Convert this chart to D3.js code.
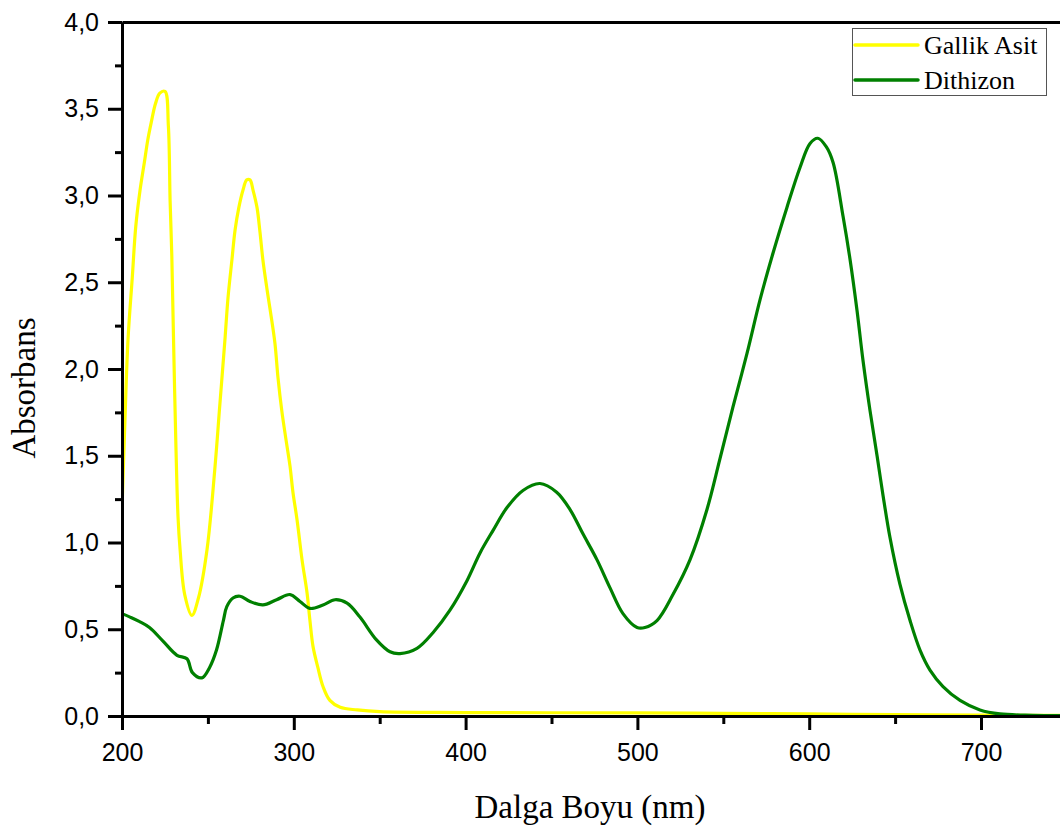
<!DOCTYPE html>
<html>
<head>
<meta charset="utf-8">
<script src="https://cdn.jsdelivr.net/npm/d3@7"></script>
<style>
  body { margin: 0; background: #fff; }
  svg { display: block; }
</style>
</head>
<body>
<svg id="chart"></svg>
<script>
// Gallik Asit spectrum (wavelength nm, absorbance)
var gallikX = [200, 201.7, 203.5, 206, 208, 210.5, 213, 215, 217, 219.5, 222, 225, 227, 228, 229, 230,
  231.4, 232.6, 233.8, 236.5, 240.7, 244.5, 249.5, 254, 257, 260, 261.7, 264, 265.8, 268, 270.4, 272.6,
  274.5, 276.3, 278.6, 280.3, 282, 284.4, 286.1, 289, 290.8, 293, 295.5, 297.8, 299.5, 301.9, 304.8,
  307.7, 309.4, 311.2, 314, 317, 321, 327, 337, 350, 400, 500, 550, 600, 650, 700, 750];
var gallikY = [1.19, 1.70, 2.17, 2.53, 2.82, 3.03, 3.19, 3.32, 3.42, 3.53, 3.59, 3.60, 3.40, 2.97, 2.65, 2.17,
  1.55, 1.15, 0.96, 0.70, 0.58, 0.68, 0.96, 1.42, 1.80, 2.18, 2.41, 2.63, 2.80, 2.93, 3.03, 3.09,
  3.09, 3.03, 2.93, 2.79, 2.63, 2.46, 2.35, 2.15, 1.95, 1.76, 1.59, 1.44, 1.29, 1.13, 0.90,
  0.71, 0.55, 0.40, 0.28, 0.17, 0.09, 0.05, 0.035, 0.025, 0.02, 0.018, 0.015, 0.012, 0.008, 0.005, 0.003];

// Dithizon spectrum
var dithizonX = [200, 204.7, 210, 216, 224, 232, 237.8, 241, 246.5, 251, 255, 259, 261, 264.6, 268.7, 274.5,
  282, 290, 297.8, 303.6, 309.4, 317, 324, 331, 338.5, 348, 356, 361.8, 371.7, 381, 390.9, 400.8,
  408.4, 416, 424, 433.4, 443.3, 453, 460.8, 468.3, 476.5, 484, 491.6, 499.8, 504.4, 511.4, 520.7,
  530.6, 540.5, 548, 555.6, 563.8, 571.4, 579, 587, 594.6, 600.5, 605, 610, 613.9, 619.7, 623.8,
  627.8, 631.3, 635.4, 639.5, 643, 647, 652.8, 658.7, 664.5, 670.3, 677.9, 687.8, 699.4, 711, 730, 750];
var dithizonY = [0.59, 0.57, 0.545, 0.51, 0.43, 0.35, 0.33, 0.25, 0.22, 0.28, 0.38, 0.55, 0.63, 0.68, 0.69, 0.66,
  0.64, 0.67, 0.70, 0.66, 0.62, 0.64, 0.67, 0.65, 0.57, 0.44, 0.37, 0.36, 0.39, 0.48, 0.61, 0.78,
  0.94, 1.07, 1.20, 1.30, 1.34, 1.29, 1.19, 1.05, 0.90, 0.74, 0.59, 0.51, 0.51, 0.55, 0.70,
  0.90, 1.19, 1.48, 1.78, 2.09, 2.40, 2.67, 2.93, 3.16, 3.30, 3.33, 3.28, 3.19, 2.88, 2.63,
  2.34, 2.05, 1.76, 1.50, 1.27, 1.03, 0.76, 0.55, 0.38, 0.265, 0.17, 0.09, 0.035, 0.012, 0.004, 0.002];

var seriesNames = ["Gallik Asit", "Dithizon"];
var seriesColours = ["#ffff00", "#008000"];

var xMajor = [200, 300, 400, 500, 600, 700];
var xMinor = [250, 350, 450, 550, 650, 750];
var yMajor = [0, 0.5, 1, 1.5, 2, 2.5, 3, 3.5, 4];
var yMinor = [0.25, 0.75, 1.25, 1.75, 2.25, 2.75, 3.25, 3.75];

var width = 1060,
    height = 826,
    plotLeft = 122, plotTop = 22, plotBottom = 716;

var svg = d3.select("#chart")
  .attr("width", width)
  .attr("height", height);

var x = d3.scaleLinear().domain([200, 750]).range([plotLeft, plotLeft + 550 * 1.718]);
var y = d3.scaleLinear().domain([0, 4]).range([plotBottom, plotTop]);

var comma = d3.formatLocale({ decimal: ",", thousands: ".", grouping: [3], currency: ["", ""] }).format(".1f");

svg.append("defs").append("clipPath").attr("id", "plot")
  .append("rect")
    .attr("x", plotLeft).attr("y", plotTop)
    .attr("width", x.range()[1] - plotLeft).attr("height", plotBottom - plotTop);

// Curves
var line = d3.line()
  .x(function (d) { return x(d[0]); })
  .y(function (d) { return y(d[1]); })
  .curve(d3.curveCatmullRom.alpha(0.5));

var series = [d3.zip(gallikX, gallikY), d3.zip(dithizonX, dithizonY)];

svg.append("g")
  .attr("clip-path", "url(#plot)")
  .selectAll("path")
  .data(series)
  .enter().append("path")
    .attr("d", line)
    .attr("fill", "none")
    .attr("stroke", function (d, i) { return seriesColours[i]; })
    .attr("stroke-width", 3.2)
    .attr("stroke-linejoin", "round");

// Axes
function styleAxis(g) {
  g.selectAll(".domain").attr("stroke", "#000").attr("stroke-width", 3);
  g.selectAll(".tick line").attr("stroke", "#000").attr("stroke-width", 3);
  g.selectAll(".tick text")
    .attr("fill", "#000")
    .style("font-family", "'Liberation Sans', Arial, sans-serif")
    .style("font-size", "25px");
}

svg.append("g")
  .attr("transform", "translate(0," + plotBottom + ")")
  .call(d3.axisBottom(x).tickValues(xMinor).tickSize(8).tickSizeOuter(0).tickFormat(""))
  .call(styleAxis);

svg.append("g")
  .attr("transform", "translate(0," + plotBottom + ")")
  .call(d3.axisBottom(x).tickValues(xMajor).tickSize(14).tickPadding(13).tickSizeOuter(0).tickFormat(d3.format("d")))
  .call(styleAxis);

svg.append("g")
  .attr("transform", "translate(" + plotLeft + ",0)")
  .call(d3.axisLeft(y).tickValues(yMinor).tickSize(7).tickSizeOuter(0).tickFormat(""))
  .call(styleAxis);

svg.append("g")
  .attr("transform", "translate(" + plotLeft + ",0)")
  .call(d3.axisLeft(y).tickValues(yMajor).tickSize(14).tickPadding(9).tickSizeOuter(0).tickFormat(comma))
  .call(styleAxis);

// Top frame line
svg.append("g")
  .attr("transform", "translate(0," + plotTop + ")")
  .call(d3.axisTop(x).tickValues([]).tickSizeOuter(0))
  .call(styleAxis);

// Axis titles
svg.append("text")
  .attr("x", 590)
  .attr("y", 818)
  .attr("text-anchor", "middle")
  .style("font-family", "'Liberation Serif', 'Times New Roman', serif")
  .style("font-size", "33px")
  .text("Dalga Boyu (nm)");

svg.append("text")
  .attr("transform", "translate(35,388) rotate(-90)")
  .attr("text-anchor", "middle")
  .style("font-family", "'Liberation Serif', 'Times New Roman', serif")
  .style("font-size", "33px")
  .text("Absorbans");

// Legend
var legend = svg.append("g");

legend.append("rect")
  .attr("x", 852.5).attr("y", 28.5)
  .attr("width", 194).attr("height", 67)
  .attr("fill", "#fff")
  .attr("stroke", "#555")
  .attr("stroke-width", 1);

var item = legend.selectAll(".item")
  .data(seriesNames)
  .enter().append("g")
  .attr("class", "item")
  .attr("transform", function (d, i) { return "translate(0," + (45 + i * 35) + ")"; });

item.append("line")
  .attr("x1", 855).attr("x2", 918)
  .attr("stroke", function (d, i) { return seriesColours[i]; })
  .attr("stroke-width", 3.5)
  .attr("stroke-linecap", "round");

item.append("text")
  .attr("x", 924)
  .attr("y", 9)
  .style("font-family", "'Liberation Serif', 'Times New Roman', serif")
  .style("font-size", "26px")
  .text(function (d) { return d; });
</script>
</body>
</html>
